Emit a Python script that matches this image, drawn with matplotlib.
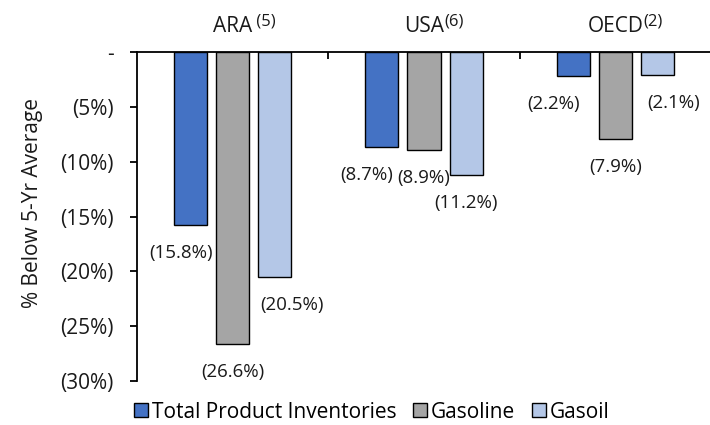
import matplotlib
matplotlib.use("Agg")
import matplotlib.pyplot as plt
from matplotlib.patches import Patch
import numpy as np

plt.rcParams['font.family'] = ['Open Sans', 'DejaVu Sans']

regions = ["ARA", "USA", "OECD"]
region_notes = [" (5)", "(6)", "(2)"]
series_names = ["Total Product Inventories", "Gasoline", "Gasoil"]
total_product = [-15.8, -8.7, -2.2]
gasoline = [-26.6, -8.9, -7.9]
gasoil = [-20.5, -11.2, -2.1]
y_ticks = [0, -5, -10, -15, -20, -25, -30]
y_tick_labels = ["-", "(5%)", "(10%)", "(15%)", "(20%)", "(25%)", "(30%)"]

colors = ["#4472C4", "#A5A5A5", "#B4C7E7"]
# horizontal nudges (pixels) for the value labels, per series and region
label_dx = [[-10, -15, -20], [0, 0, 0], [17, 0, 16]]

TEXT = "#1a1a1a"
fig = plt.figure(figsize=(7.1, 4.25), dpi=100)
ax = fig.add_axes([137 / 710, 1 - 381 / 425, 574 / 710, 329 / 425])

x = np.arange(len(regions))
width = 0.1725
step = 0.22
series = [total_product, gasoline, gasoil]
for i, (vals, col) in enumerate(zip(series, colors)):
    pos = x + (i - 1) * step
    bars = ax.bar(pos, vals, width, color=col, edgecolor="black", linewidth=1.0, zorder=2)
    for j, (b, v) in enumerate(zip(bars, vals)):
        ax.annotate(f"({abs(v):.1f}%)", xy=(b.get_x() + b.get_width() / 2, v),
                    xytext=(label_dx[i][j], -28), textcoords="offset pixels",
                    ha="center", va="center", fontsize=13.5, color=TEXT)

ax.set_xlim(-0.5, 2.5)
ax.set_ylim(-30, 0)

for s in ["right", "bottom"]:
    ax.spines[s].set_visible(False)
ax.spines["top"].set_linewidth(1.3)
ax.spines["left"].set_linewidth(1.3)

ax.set_yticks(y_ticks)
ax.set_yticklabels(y_tick_labels, fontsize=15, color=TEXT)
ax.tick_params(axis="y", direction="out", length=5, width=1.3, pad=12)

ax.xaxis.tick_top()
ax.set_xticks([0.5, 1.5])
ax.set_xticklabels([])
ax.tick_params(axis="x", which="major", direction="in", length=5, width=1.3)

# region headings with raised note markers
for xi, name, note in zip(x, regions, region_notes):
    t = ax.annotate(name, xy=(xi, 0), xytext=(0, 26), textcoords="offset pixels",
                    ha="center", va="center", fontsize=15, color=TEXT,
                    annotation_clip=False)
    ax.annotate(note, xy=(1, 1), xycoords=t, xytext=(0, 2), textcoords="offset pixels",
                ha="left", va="top", fontsize=12, color=TEXT, annotation_clip=False)

fig.text(33 / 710, 1 - 203 / 425, "% Below 5-Yr Average", rotation=90,
         ha="center", va="center", fontsize=15, color=TEXT)

handles = [Patch(facecolor=c, edgecolor="black", linewidth=1.0) for c in colors]
fig.legend(handles, series_names, loc="center", bbox_to_anchor=(372 / 710, 1 - 412 / 425),
           ncol=3, frameon=False, fontsize=15, handlelength=0.65, handleheight=0.65,
           handletextpad=0.2, columnspacing=0.8, borderpad=0)

fig.savefig("out.png", dpi=100)
